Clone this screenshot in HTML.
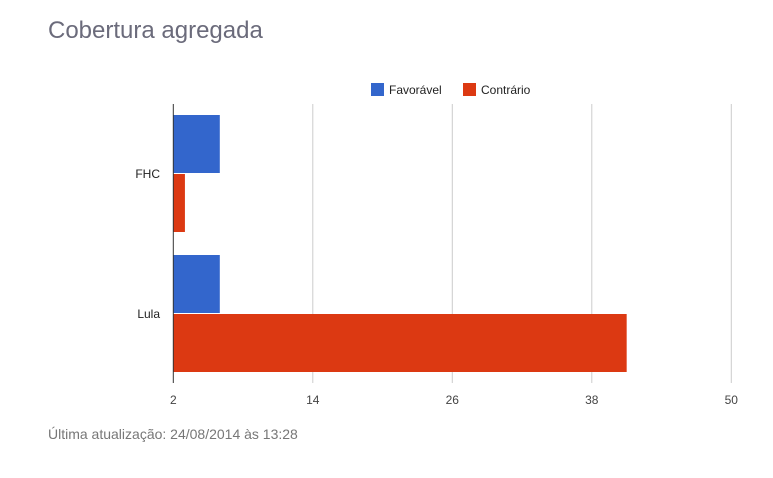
<!DOCTYPE html>
<html><head><meta charset="utf-8"><style>
body{margin:0;background:#fff;width:773px;height:473px;overflow:hidden;font-family:"Liberation Sans",sans-serif}
</style></head><body>
<svg width="773" height="473" xmlns="http://www.w3.org/2000/svg">
<text x="48" y="38" font-size="24" fill="#6b6b7b" style="font-family:'Liberation Sans Narrow','Liberation Sans',sans-serif">Cobertura agregada</text>
<g>
<rect x="371" y="83" width="13" height="13" fill="#3366cc"/>
<text x="389" y="94" font-size="12" fill="#222">Favorável</text>
<rect x="463" y="83" width="13" height="13" fill="#dc3912"/>
<text x="481" y="94" font-size="12" fill="#222">Contrário</text>
</g>
<g id="grid"></g><g id="bars"></g><g id="labels"></g>
<text x="48" y="439" font-size="14" fill="#777">Última atualização: 24/08/2014 às 13:28</text>
</svg>
<script>
const categories=["FHC","Lula"];
const favoravel=[6,6];
const contrario=[3,41];
const ticks=[2,14,26,38,50];
const NS="http://www.w3.org/2000/svg";
const x0=173.3,x1=731.3,xmin=2,xmax=50;
const xs=v=>x0+(v-xmin)/(xmax-xmin)*(x1-x0);
const yTop=104,yBot=383,groupH=140,barH=58;
function mk(t,a,p){const e=document.createElementNS(NS,t);for(const k in a)e.setAttribute(k,a[k]);document.getElementById(p).appendChild(e);return e;}
ticks.forEach((t,i)=>{
 if(i>0){const g=mk('line',{x1:xs(t),x2:xs(t),y1:yTop,y2:yBot,stroke:'#cccccc','stroke-width':1},'grid');
 
 }
 const l=mk('text',{x:xs(t),y:404,'font-size':12,fill:'#444','text-anchor':'middle'},'labels');
 l.textContent=t;
 
 
});
categories.forEach((c,i)=>{
 const cy=173+i*groupH;
 const b=mk('rect',{x:xs(xmin),y:cy-barH,width:xs(favoravel[i])-xs(xmin),height:barH,fill:'#3366cc'},'bars');
 
 
 const r=mk('rect',{x:xs(xmin),y:cy+1,width:xs(contrario[i])-xs(xmin),height:barH,fill:'#dc3912'},'bars');
 
 
 const l=mk('text',{x:160,y:cy+5,'font-size':12,fill:'#222','text-anchor':'end'},'labels');
 l.textContent=c;
 
 
});
const ax=mk('line',{x1:x0,x2:x0,y1:yTop,y2:yBot,stroke:'#333','stroke-width':1},'labels');


</script>
</body></html>
